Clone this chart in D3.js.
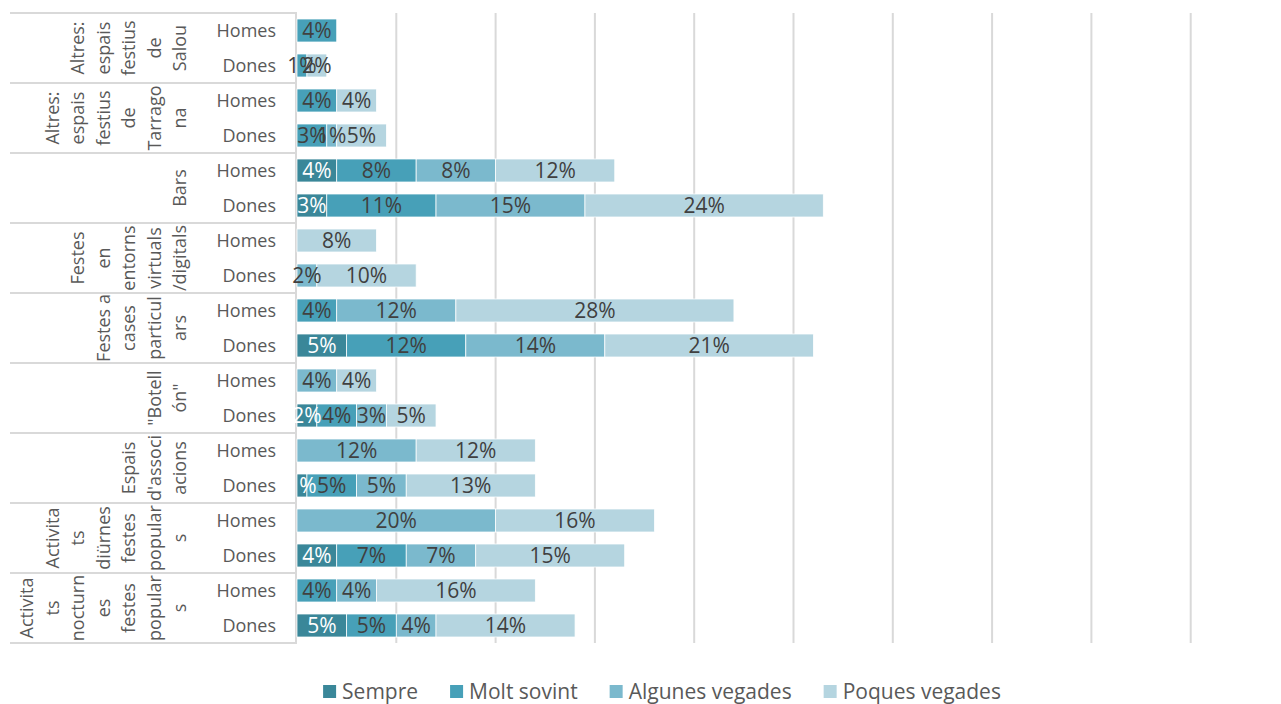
<!DOCTYPE html>
<html>
<head>
<meta charset="utf-8">
<script src="https://cdn.jsdelivr.net/npm/d3@7/dist/d3.min.js"></script>
<style>
  html, body { margin: 0; padding: 0; background: #ffffff; }
  svg { display: block; font-family: "Open Sans", "Noto Sans", sans-serif; }
</style>
</head>
<body>
<svg id="chart" width="1281" height="704"></svg>
<script>
// Group labels, already broken into the lines they are drawn on (top to bottom)
const groupLines = [
  ["Altres:", "espais", "festius", "de", "Salou"],
  ["Altres:", "espais", "festius", "de", "Tarrago", "na"],
  ["Bars"],
  ["Festes", "en", "entorns", "virtuals", "/digitals"],
  ["Festes a", "cases", "particul", "ars"],
  ["\"Botell", "ón\""],
  ["Espais", "d'associ", "acions"],
  ["Activita", "ts", "diürnes", "festes", "popular", "s"],
  ["Activita", "ts", "nocturn", "es", "festes", "popular", "s"]
];
const genders = ["Homes", "Dones"];
const seriesNames = ["Sempre", "Molt sovint", "Algunes vegades", "Poques vegades"];

// Percentages per row, rows ordered top to bottom: each group gives Homes then Dones
const sempre      = [0, 0,  0, 0,  4, 3,  0, 0,  0, 5,  0, 2,  0, 1,  0, 4,  0, 5];
const moltSovint  = [4, 1,  4, 3,  8, 11, 0, 0,  4, 12, 0, 4,  0, 5,  0, 7,  4, 5];
const algunes     = [0, 0,  0, 1,  8, 15, 0, 2,  12, 14, 4, 3, 12, 5, 20, 7,  4, 4];
const poques      = [0, 2,  4, 5,  12, 24, 8, 10, 28, 21, 4, 5, 12, 13, 16, 15, 16, 14];

const colors = ["#3a8799", "#47a0b8", "#7bb9cd", "#b5d5e0"];
const labelColors = ["#ffffff", "#404040", "#404040", "#404040"];

const seriesValues = [sempre, moltSovint, algunes, poques];

// rows: one per group × gender
const rows = [];
groupLines.forEach((g, gi) => {
  genders.forEach((s, si) => rows.push({ id: gi + "-" + si, group: gi, gender: s }));
});
rows.forEach((r, i) => {
  let acc = 0;
  r.segments = seriesValues.map((vals, k) => {
    const v = vals[i];
    const seg = { key: k, value: v, x0: acc, x1: acc + v };
    acc += v;
    return seg;
  });
});

const svg = d3.select("#chart");
const plotLeft = 297, plotTop = 13, plotBottom = 643;

const x = d3.scaleLinear().domain([0, 100]).range([plotLeft, 1290]);
const y = d3.scaleBand()
  .domain(rows.map(r => r.id))
  .range([plotTop, plotBottom])
  .paddingInner(0.343)
  .paddingOuter(0.1715);
const step = y.step();

// vertical gridlines
svg.append("g")
  .selectAll("line")
  .data(x.ticks(10).filter(t => t > 0))
  .join("line")
  .attr("x1", d => x(d)).attr("x2", d => x(d))
  .attr("y1", plotTop).attr("y2", plotBottom)
  .attr("stroke", "#d9d9d9").attr("stroke-width", 2);

// category axis: vertical line and group separators
svg.append("line")
  .attr("x1", plotLeft - 1).attr("x2", plotLeft - 1)
  .attr("y1", plotTop).attr("y2", plotBottom)
  .attr("stroke", "#d9d9d9").attr("stroke-width", 2);

const groupBounds = d3.range(groupLines.length + 1).map(i => plotTop + i * 2 * step);
svg.append("g")
  .selectAll("line")
  .data(groupBounds)
  .join("line")
  .attr("x1", 10).attr("x2", plotLeft)
  .attr("y1", d => d).attr("y2", d => d)
  .attr("stroke", "#d9d9d9").attr("stroke-width", 2);

// gender labels
svg.append("g")
  .selectAll("text")
  .data(rows)
  .join("text")
  .attr("x", 276)
  .attr("y", d => y(d.id) + y.bandwidth() / 2)
  .attr("dy", "0.35em")
  .attr("text-anchor", "end")
  .attr("font-size", 18)
  .attr("fill", "#595959")
  .text(d => d.gender);

// group labels, rotated, one column per line
const lastColX = 180, colStep = 25.5;
const gLabels = svg.append("g");
groupLines.forEach((lines, gi) => {
  const cy = plotTop + (gi * 2 + 1) * step;
  const n = lines.length;
  lines.forEach((ln, li) => {
    const cx = lastColX - (n - 1 - li) * colStep;
    gLabels.append("text")
      .attr("transform", `translate(${cx},${cy}) rotate(-90)`)
      .attr("text-anchor", "middle")
      .attr("dy", "0.35em")
      .attr("font-size", 18)
      .attr("fill", "#595959")
      .text(ln);
  });
});

// stacked bars
const rowG = svg.append("g")
  .selectAll("g")
  .data(rows)
  .join("g")
  .attr("transform", d => `translate(0,${y(d.id)})`);

rowG.selectAll("rect")
  .data(d => d.segments.filter(s => s.value > 0))
  .join("rect")
  .attr("x", s => x(s.x0))
  .attr("width", s => x(s.x1) - x(s.x0))
  .attr("y", 0)
  .attr("height", y.bandwidth())
  .attr("fill", s => colors[s.key])
  .attr("stroke", "#ffffff")
  .attr("stroke-width", 0.75);

rowG.selectAll("text")
  .data(d => d.segments.filter(s => s.value > 0))
  .join("text")
  .attr("x", s => (x(s.x0) + x(s.x1)) / 2)
  .attr("y", y.bandwidth() / 2)
  .attr("dy", "0.36em")
  .attr("text-anchor", "middle")
  .attr("font-size", 21)
  .attr("fill", s => labelColors[s.key])
  .text(s => s.value + "%");

// legend
const legend = svg.append("g");
const items = legend.selectAll("g")
  .data(seriesNames)
  .join("g");
items.append("rect")
  .attr("width", 13).attr("height", 13)
  .attr("y", 685)
  .attr("fill", (d, i) => colors[i]);
items.append("text")
  .attr("x", 19)
  .attr("y", 691.5)
  .attr("dy", "0.35em")
  .attr("font-size", 21)
  .attr("fill", "#595959")
  .text(d => d);
const gap = 32;
const widths = [];
items.each(function () {
  const t = d3.select(this).select("text").node().getComputedTextLength();
  widths.push(19 + t);
});
const total = d3.sum(widths) + gap * (widths.length - 1);
let lx = 662 - total / 2;
items.each(function (d, i) {
  d3.select(this).attr("transform", `translate(${lx},0)`);
  lx += widths[i] + gap;
});
</script>
</body>
</html>
